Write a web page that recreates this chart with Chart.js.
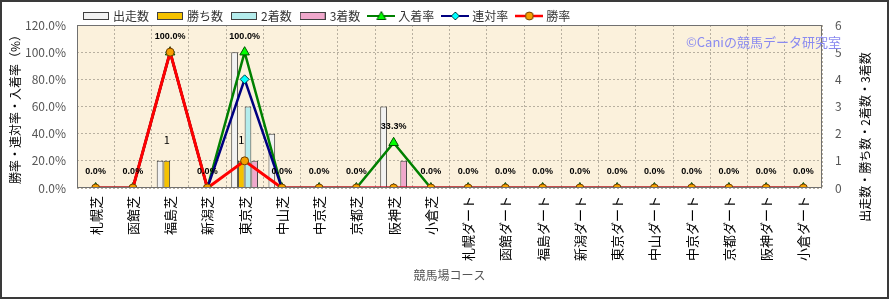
<!DOCTYPE html>
<html>
<head>
<meta charset="utf-8">
<script src="https://cdn.jsdelivr.net/npm/chart.js@4.4.0/dist/chart.umd.min.js"></script>
<style>
html, body { margin: 0; padding: 0; background: #fff; }
</style>
</head>
<body>
<canvas id="c" width="890" height="302"></canvas>
<script>
// コース
const courses = ["札幌芝","函館芝","福島芝","新潟芝","東京芝","中山芝","中京芝","京都芝","阪神芝","小倉芝",
                 "札幌ダート","函館ダート","福島ダート","新潟ダート","東京ダート","中山ダート","中京ダート","京都ダート","阪神ダート","小倉ダート"];

// 回数 (右軸)
const starts  = [0,0,1,0,5,2,0,0,3,0, 0,0,0,0,0,0,0,0,0,0];
const wins    = [0,0,1,0,1,0,0,0,0,0, 0,0,0,0,0,0,0,0,0,0];
const seconds = [0,0,0,0,3,0,0,0,0,0, 0,0,0,0,0,0,0,0,0,0];
const thirds  = [0,0,0,0,1,0,0,0,1,0, 0,0,0,0,0,0,0,0,0,0];

// 率 (左軸 %)
const placeRate  = [0,0,100,0,100,0,0,0,33.3,0, 0,0,0,0,0,0,0,0,0,0];
const rentaiRate = [0,0,100,0,80,0,0,0,0,0, 0,0,0,0,0,0,0,0,0,0];
const winRate    = [0,0,100,0,20,0,0,0,0,0, 0,0,0,0,0,0,0,0,0,0];

const rateMax = 120, rateStep = 20;
const countMax = 6, countStep = 1;

const JP = "'Noto Sans CJK JP', 'Noto Sans', sans-serif";

// =========================
// LEGEND SWATCHES
// =========================
function barSwatch(fill){
    const c = document.createElement("canvas");
    c.width = 26; c.height = 8;
    const g = c.getContext("2d");
    g.fillStyle = fill;
    g.fillRect(0.5, 0.5, 25, 7);
    g.strokeStyle = "#404040";
    g.lineWidth = 1;
    g.strokeRect(0.5, 0.5, 25, 7);
    return c;
}

function lineSwatch(color, width, drawMarker){
    const c = document.createElement("canvas");
    c.width = 28; c.height = 12;
    const g = c.getContext("2d");
    g.strokeStyle = color;
    g.lineWidth = width;
    g.beginPath(); g.moveTo(0, 6); g.lineTo(28, 6); g.stroke();
    drawMarker(g);
    return c;
}

const swatches = [
    barSwatch("#f2f2f2"),
    barSwatch("#f5c200"),
    barSwatch("#b4ecec"),
    barSwatch("#f0a8cc"),
    lineSwatch("#008000", 2, g => {
        g.fillStyle = "#00ff00"; g.strokeStyle = "#005000"; g.lineWidth = 1;
        g.beginPath(); g.moveTo(14, 1.5); g.lineTo(18.5, 9.5); g.lineTo(9.5, 9.5); g.closePath(); g.fill(); g.stroke();
    }),
    lineSwatch("#000080", 2, g => {
        g.fillStyle = "#00ffff"; g.strokeStyle = "#004040"; g.lineWidth = 1;
        g.beginPath(); g.moveTo(14, 2); g.lineTo(18, 6); g.lineTo(14, 10); g.lineTo(10, 6); g.closePath(); g.fill(); g.stroke();
    }),
    lineSwatch("#ff0000", 2.5, g => {
        g.fillStyle = "#f5a000"; g.strokeStyle = "#704000"; g.lineWidth = 1;
        g.beginPath(); g.arc(14, 6, 4, 0, Math.PI * 2); g.fill(); g.stroke();
    })
];

// =========================
// PLUGIN: 背景・枠・ラベル
// =========================
const decor = {
    id: "decor",
    afterLayout(chart){
        chart.legend.left = 75;
        chart.legend.top = 0;
    },
    beforeDraw(chart){
        const {ctx, chartArea: a} = chart;
        ctx.save();
        ctx.fillStyle = "#fff";
        ctx.fillRect(0, 0, chart.width, chart.height);
        ctx.fillStyle = "#fbf1dc";
        ctx.fillRect(a.left, a.top, a.right - a.left, a.bottom - a.top);
        ctx.restore();
    },
    afterDatasetsDraw(chart){
        const {ctx} = chart;
        ctx.save();
        ctx.textAlign = "center";
        ctx.textBaseline = "middle";
        ctx.fillStyle = "#000";

        // 入着率 ラベル
        ctx.font = "bold 9px 'Liberation Sans', Arial, sans-serif";
        chart.getDatasetMeta(4).data.forEach((pt, i) => {
            ctx.fillText(placeRate[i].toFixed(1) + "%", pt.x, pt.y - 16);
        });

        // 勝ち数 ラベル
        ctx.font = "11px " + JP;
        chart.getDatasetMeta(1).data.forEach((bar, i) => {
            if(wins[i] > 0) ctx.fillText(String(wins[i]), bar.x, bar.y - 21);
        });
        ctx.restore();
    },
    afterDraw(chart){
        const {ctx, chartArea: a} = chart;
        ctx.save();

        // 枠
        ctx.strokeStyle = "#707070";
        ctx.lineWidth = 1;
        ctx.strokeRect(a.left + 0.5, a.top + 0.5, a.right - a.left - 1, a.bottom - a.top - 1);

        // 透かし
        ctx.font = "13px " + JP;
        ctx.fillStyle = "#8a8af0";
        ctx.textAlign = "left";
        ctx.textBaseline = "middle";
        ctx.fillText("©Caniの競馬データ研究室", 686, 42);

        // 右軸タイトル
        ctx.translate(865, 137);
        ctx.rotate(-Math.PI / 2);
        ctx.textAlign = "center";
        ctx.fillStyle = "#000";
        ctx.font = "12px " + JP;
        ctx.fillText("出走数・勝ち数・2着数・3着数", 0, 0);
        ctx.setTransform(1, 0, 0, 1, 0, 0);

        // 外枠
        ctx.strokeStyle = "#3a3a3a";
        ctx.lineWidth = 2;
        ctx.strokeRect(1, 1, 887, 297);
        ctx.restore();
    }
};

// =========================
// CHART
// =========================
const barBase = { yAxisID: "yN", borderColor: "#404040", borderWidth: 1, barPercentage: 1, categoryPercentage: 0.72, order: 10 };

new Chart(document.getElementById("c"), {
    type: "bar",
    data: {
        labels: courses,
        datasets: [
            { ...barBase, label: "出走数", data: starts,  backgroundColor: "#f2f2f2" },
            { ...barBase, label: "勝ち数", data: wins,    backgroundColor: "#f5c200" },
            { ...barBase, label: "2着数",  data: seconds, backgroundColor: "#b4ecec" },
            { ...barBase, label: "3着数",  data: thirds,  backgroundColor: "#f0a8cc" },
            {
                type: "line", label: "入着率", data: placeRate, yAxisID: "yR", order: 2,
                borderColor: "#008000", borderWidth: 2.5, tension: 0,
                pointStyle: "triangle", pointRadius: 5.5,
                pointBackgroundColor: "#00ff00", pointBorderColor: "#005000", pointBorderWidth: 1
            },
            {
                type: "line", label: "連対率", data: rentaiRate, yAxisID: "yR", order: 1,
                borderColor: "#000080", borderWidth: 2.5, tension: 0,
                pointStyle: "rectRot", pointRadius: 4.5,
                pointBackgroundColor: "#00ffff", pointBorderColor: "#004040", pointBorderWidth: 1
            },
            {
                type: "line", label: "勝率", data: winRate, yAxisID: "yR", order: 0,
                borderColor: "#ff0000", borderWidth: 3, tension: 0,
                pointStyle: "circle", pointRadius: 4,
                pointBackgroundColor: "#f5a000", pointBorderColor: "#704000", pointBorderWidth: 1
            }
        ]
    },
    options: {
        responsive: false,
        animation: false,
        devicePixelRatio: 1,
        layout: { padding: { top: -7, left: 0, right: 0, bottom: 0 } },
        plugins: {
            tooltip: { enabled: false },
            legend: {
                position: "top",
                align: "start",
                labels: {
                    usePointStyle: true,
                    pointStyleWidth: 22,
                    padding: 10,
                    color: "#333",
                    font: { family: JP, size: 12 },
                    generateLabels(chart){
                        return chart.data.datasets.map((ds, i) => ({
                            text: ds.label,
                            pointStyle: swatches[i],
                            datasetIndex: i,
                            hidden: false,
                            lineWidth: 0,
                            strokeStyle: "transparent",
                            fillStyle: "transparent",
                            fontColor: "#333"
                        }));
                    }
                }
            }
        },
        scales: {
            x: {
                offset: true,
                grid: { color: "#b8b0a0", offset: true, drawTicks: false },
                border: { display: false, dash: [2, 2] },
                ticks: {
                    autoSkip: false, minRotation: 90, maxRotation: 90, padding: 8,
                    color: "#000", font: { family: JP, size: 13 }
                },
                title: {
                    display: true, text: "競馬場コース", color: "#555",
                    font: { family: JP, size: 12 }, padding: { top: 0, bottom: 19 }
                },
                afterFit(s){ s.height = 114; }
            },
            yR: {
                position: "left",
                min: 0, max: rateMax,
                grid: { color: "#b8b0a0", drawTicks: false },
                border: { display: false, dash: [2, 2] },
                ticks: {
                    stepSize: rateStep, padding: 11, color: "#555",
                    font: { family: JP, size: 12 },
                    callback: v => v.toFixed(1) + "%"
                },
                title: {
                    display: true, text: "勝率・連対率・入着率（%）", color: "#000",
                    font: { family: JP, size: 12 }, padding: { top: 8, bottom: 0 }
                },
                afterFit(s){ s.width = 77; }
            },
            yN: {
                position: "right",
                min: 0, max: countMax,
                grid: { display: false, drawTicks: false },
                border: { display: false },
                ticks: { stepSize: countStep, padding: 13, color: "#555", font: { family: JP, size: 12 } },
                afterFit(s){ s.width = 68; }
            }
        }
    },
    plugins: [decor]
});
</script>
</body>
</html>
